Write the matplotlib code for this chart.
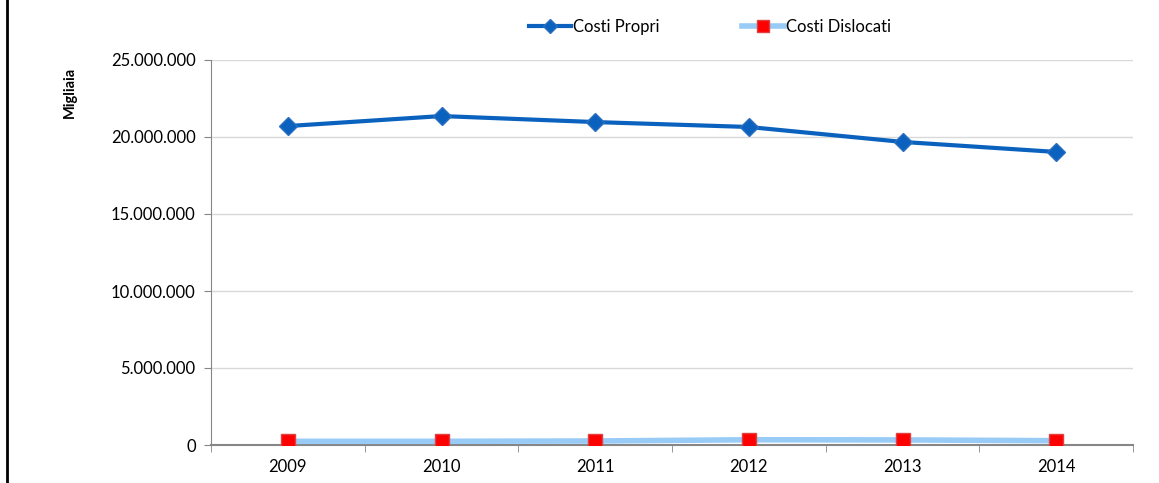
import matplotlib.pyplot as plt
from matplotlib.ticker import FuncFormatter, MultipleLocator, FixedLocator
from matplotlib.lines import Line2D

anni = ["2009", "2010", "2011", "2012", "2013", "2014"]
costi_propri = [20710000, 21360000, 20970000, 20650000, 19680000, 19030000]
costi_dislocati = [240000, 240000, 260000, 340000, 330000, 280000]

plt.rcParams['font.family'] = ['Lato', 'DejaVu Sans']

fig = plt.figure(figsize=(11.59, 4.83), dpi=100)
ax = fig.add_axes([211/1159, 1-445/483, (1133-211)/1159, (445-60)/483])

x = list(range(len(anni)))
ax.plot(x, costi_propri, color="#0a62be", lw=3, marker="D", ms=9,
        mfc="#0a62be", mec="#2c6fc0", label="Costi Propri", zorder=3)
ax.plot(x, costi_dislocati, color="#99cbf7", lw=4, marker="s", ms=10,
        mfc="#ff0000", mec="#e04040", label="Costi Dislocati", zorder=3)

ax.set_xlim(-0.5, 5.5)
ax.set_ylim(0, 25000000)
ax.yaxis.set_major_locator(MultipleLocator(5000000))
ax.yaxis.set_major_formatter(FuncFormatter(lambda v, p: f"{int(v):,}".replace(",", ".")))
ax.set_xticks(x)
ax.set_xticklabels(anni)
ax.xaxis.set_minor_locator(FixedLocator([i + 0.5 for i in range(-1, 6)]))
ax.tick_params(axis="x", which="major", length=0, pad=10, labelsize=12)
ax.tick_params(axis="x", which="minor", length=5, color="#868686", direction="out")
ax.tick_params(axis="y", length=5, color="#868686", labelsize=12, pad=6)

ax.grid(axis="y", color="#d9d9d9", lw=1)
ax.set_axisbelow(True)
for s in ["top", "right"]:
    ax.spines[s].set_visible(False)
ax.spines["left"].set_color("#868686")
ax.spines["bottom"].set_color("#868686")
ax.spines["bottom"].set_linewidth(1.5)

fig.text(70/1159, 1-92/483, "Migliaia", rotation=90, fontsize=10.5, fontweight="bold",
         ha="center", va="center")

fig.legend(loc="center", bbox_to_anchor=(710/1159, 1-27/483), ncol=2, frameon=False,
           fontsize=12, handlelength=2.5, handletextpad=0.1, columnspacing=5,
           markerscale=0.8)

fig.add_artist(Line2D([7/1159, 7/1159], [0, 1], color="black", lw=2))

fig.savefig("out.png", dpi=100)
